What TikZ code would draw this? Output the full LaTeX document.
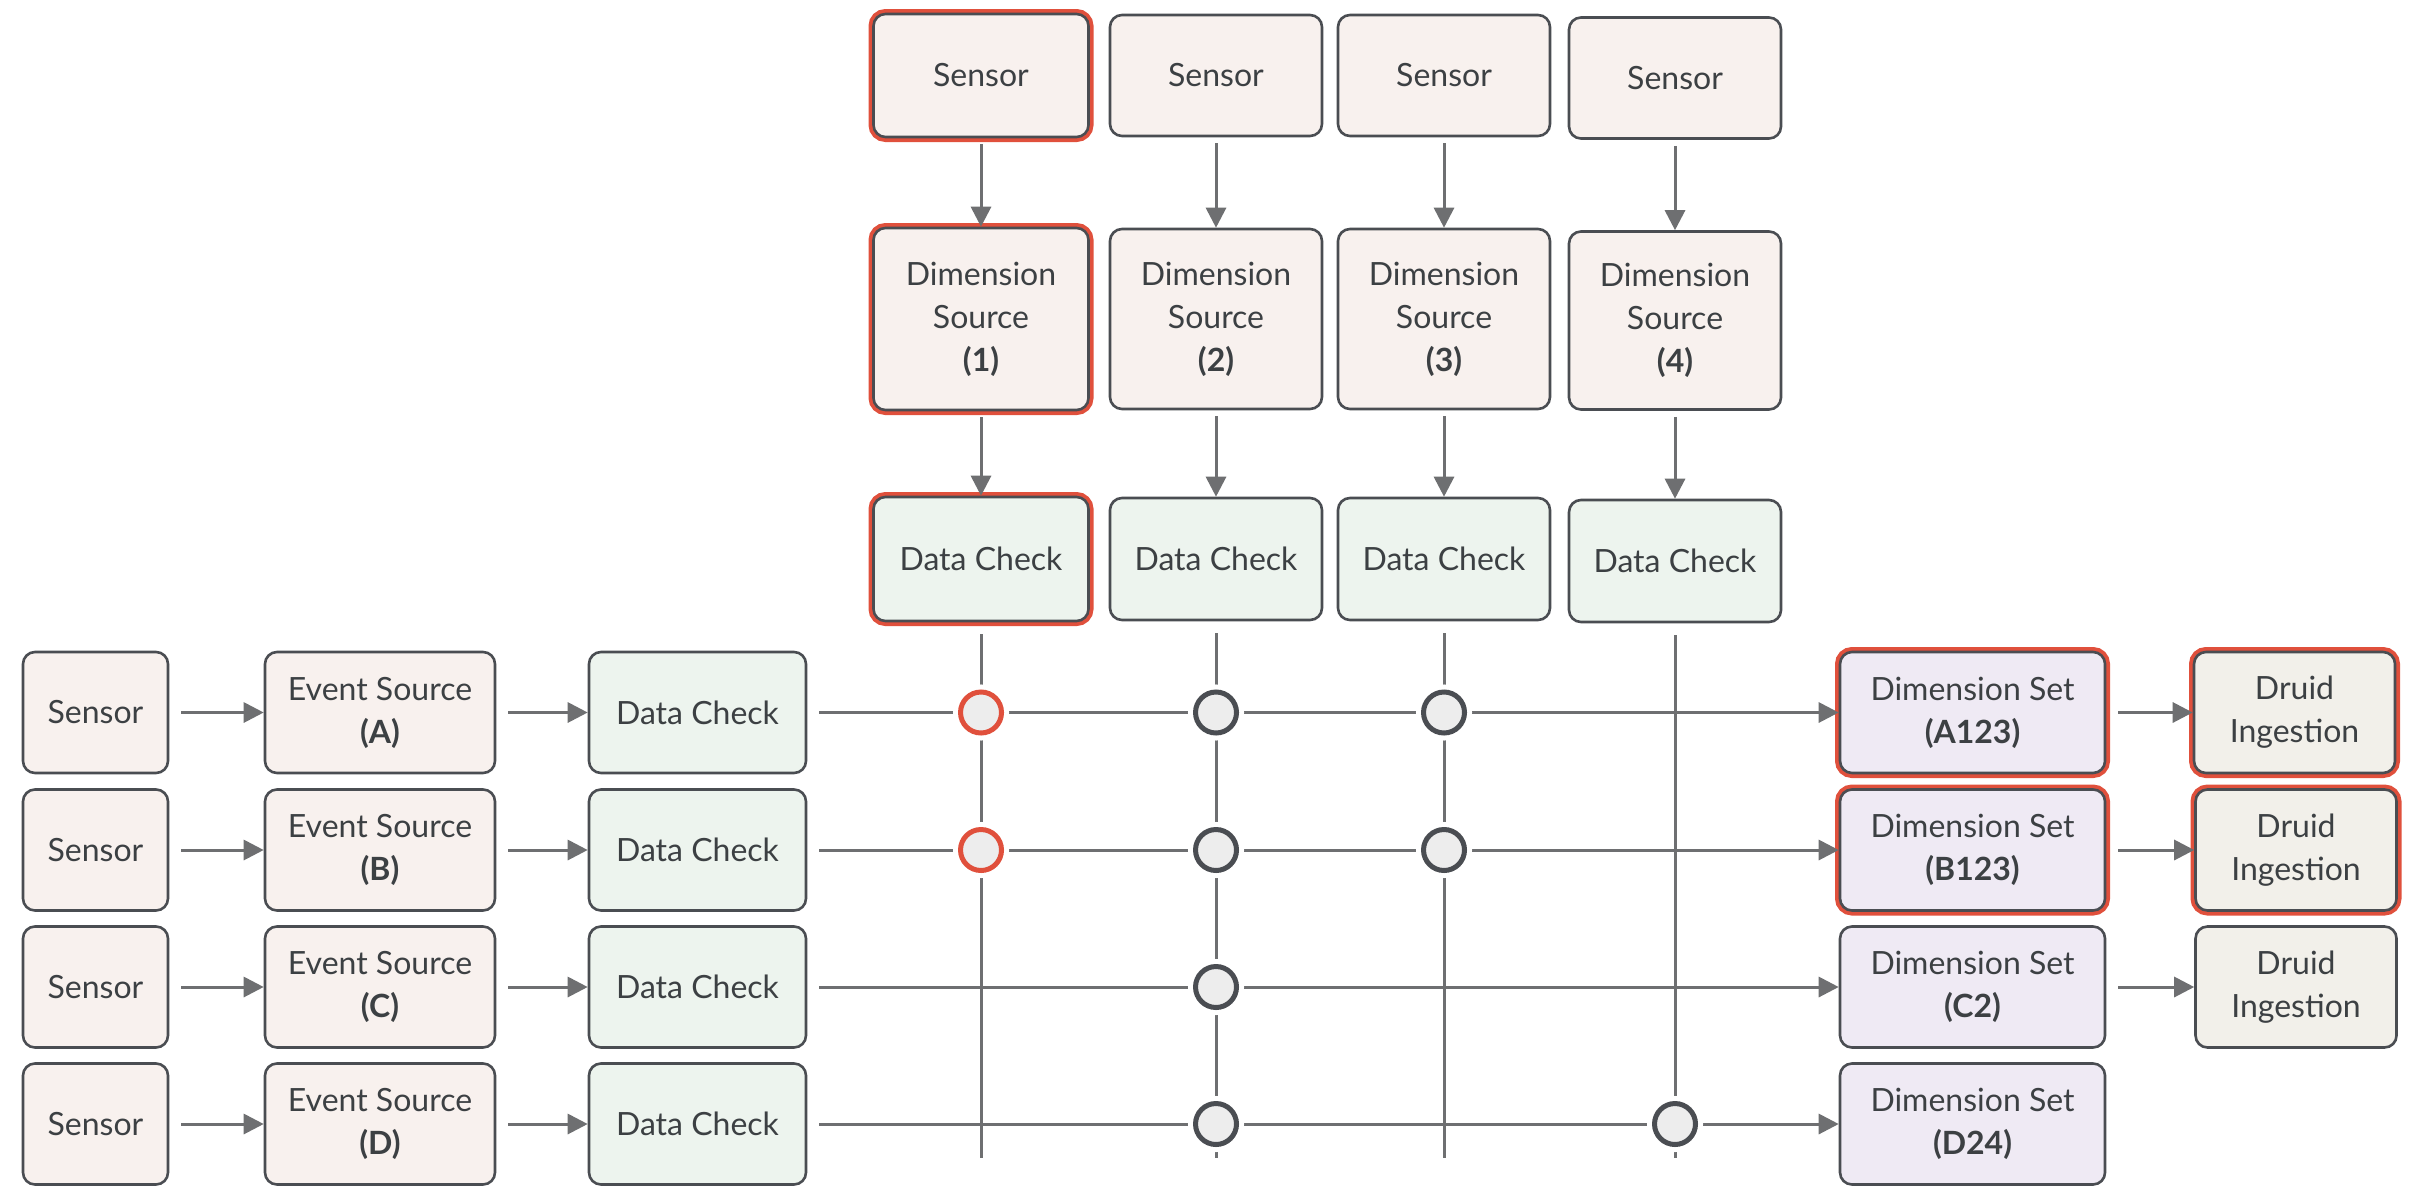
\documentclass[tikz,border=0pt]{standalone}
\usepackage{fontspec}
\setmainfont{Lato}
\usetikzlibrary{arrows.meta}

\definecolor{ink}{HTML}{3C4043}
\definecolor{edge}{HTML}{4A4D52}
\definecolor{wirec}{HTML}{6E6F71}
\definecolor{hotc}{HTML}{E0503C}
\definecolor{srcfill}{HTML}{F8F1EE}
\definecolor{chkfill}{HTML}{EDF4EE}
\definecolor{setfill}{HTML}{EFEAF4}
\definecolor{drufill}{HTML}{F2F0EA}
\definecolor{dotfill}{HTML}{EDEDED}

\tikzset{
  box/.style={draw=edge, line width=1.3pt, rounded corners=6pt, align=center, text=ink,
    font=\fontsize{16}{21.5}\selectfont, inner sep=2pt},
  src/.style={box, fill=srcfill},
  chk/.style={box, fill=chkfill},
  dset/.style={box, fill=setfill},
  druid/.style={box, fill=drufill},
  picked/.style={preaction={draw=hotc, line width=5pt}},
  wire/.style={draw=wirec, line width=1.5pt, shorten <=6pt},
  flow/.style={wire, -{Triangle[length=10pt,width=10pt]}},
  hub/.style={circle, draw=edge, line width=2.5pt, fill=dotfill, minimum size=20.5pt, inner sep=0pt,
    preaction={draw=white, line width=7.5pt}},
  hubhot/.style={hub, draw=hotc}
}

\begin{document}
\begin{tikzpicture}[x=0.5pt,y=0.5pt,yscale=-1,xscale=1]
\fill[white] (0,0) rectangle (2418,1194);
\useasboundingbox (0,0) rectangle (2418,1194);

% Top columns
\node[src,picked,minimum width=107.5pt,minimum height=61.5pt] (senT1) at (981,75.5) {Sensor};
\node[src,minimum width=106pt,minimum height=60.5pt] (senT2) at (1216,75.5) {Sensor};
\node[src,minimum width=106pt,minimum height=60.5pt] (senT3) at (1444,75.5) {Sensor};
\node[src,minimum width=106pt,minimum height=60.5pt] (senT4) at (1675,78) {Sensor};

\node[src,picked,minimum width=107.5pt,minimum height=91pt] (dsrc1) at (981,319) {Dimension\\Source\\\textbf{(1)}};
\node[src,minimum width=106pt,minimum height=90pt] (dsrc2) at (1216,319) {Dimension\\Source\\\textbf{(2)}};
\node[src,minimum width=106pt,minimum height=90pt] (dsrc3) at (1444,319) {Dimension\\Source\\\textbf{(3)}};
\node[src,minimum width=106pt,minimum height=89pt] (dsrc4) at (1675,320.5) {Dimension\\Source\\\textbf{(4)}};

\node[chk,picked,minimum width=107.5pt,minimum height=62pt] (chkT1) at (981,559) {Data Check};
\node[chk,minimum width=106pt,minimum height=61pt] (chkT2) at (1216,559) {Data Check};
\node[chk,minimum width=106pt,minimum height=61pt] (chkT3) at (1444,559) {Data Check};
\node[chk,minimum width=106pt,minimum height=61pt] (chkT4) at (1675,561) {Data Check};

% Rows
\node[src,minimum width=72.5pt,minimum height=60.5pt] (senA) at (95.5,712.5) {Sensor};
\node[src,minimum width=115pt,minimum height=60.5pt] (evA) at (380,712.5) {Event Source\\\textbf{(A)}};
\node[chk,minimum width=108.5pt,minimum height=60.5pt] (chkA) at (697.5,712.5) {Data Check};
\node[dset,picked,minimum width=132.5pt,minimum height=60.5pt] (setA) at (1972.5,712.5) {Dimension Set\\\textbf{(A123)}};
\node[druid,picked,minimum width=100.5pt,minimum height=60.5pt] (druA) at (2294.5,712.5) {Druid\\Ingestion};

\node[src,minimum width=72.5pt,minimum height=60.5pt] (senB) at (95.5,850) {Sensor};
\node[src,minimum width=115pt,minimum height=60.5pt] (evB) at (380,850) {Event Source\\\textbf{(B)}};
\node[chk,minimum width=108.5pt,minimum height=60.5pt] (chkB) at (697.5,850) {Data Check};
\node[dset,picked,minimum width=132.5pt,minimum height=60.5pt] (setB) at (1972.5,850) {Dimension Set\\\textbf{(B123)}};
\node[druid,picked,minimum width=100.5pt,minimum height=60.5pt] (druB) at (2296,850) {Druid\\Ingestion};

\node[src,minimum width=72.5pt,minimum height=60.5pt] (senC) at (95.5,987) {Sensor};
\node[src,minimum width=115pt,minimum height=60.5pt] (evC) at (380,987) {Event Source\\\textbf{(C)}};
\node[chk,minimum width=108.5pt,minimum height=60.5pt] (chkC) at (697.5,987) {Data Check};
\node[dset,minimum width=132.5pt,minimum height=60.5pt] (setC) at (1972.5,987) {Dimension Set\\\textbf{(C2)}};
\node[druid,minimum width=100.5pt,minimum height=60.5pt] (druC) at (2296,987) {Druid\\Ingestion};

\node[src,minimum width=72.5pt,minimum height=60.5pt] (senD) at (95.5,1124) {Sensor};
\node[src,minimum width=115pt,minimum height=60.5pt] (evD) at (380,1124) {Event Source\\\textbf{(D)}};
\node[chk,minimum width=108.5pt,minimum height=60.5pt] (chkD) at (697.5,1124) {Data Check};
\node[dset,minimum width=132.5pt,minimum height=60.5pt] (setD) at (1972.5,1124) {Dimension Set\\\textbf{(D24)}};

\coordinate (foot) at (0,1158);

% Column arrows
\draw[flow,shorten <=3pt] (senT1) -- (dsrc1);
\draw[flow,shorten <=3pt] (senT2) -- (dsrc2);
\draw[flow,shorten <=3pt] (senT3) -- (dsrc3);
\draw[flow,shorten <=3pt] (senT4) -- (dsrc4);
\draw[flow,shorten <=3pt] (dsrc1) -- (chkT1);
\draw[flow,shorten <=3pt] (dsrc2) -- (chkT2);
\draw[flow,shorten <=3pt] (dsrc3) -- (chkT3);
\draw[flow,shorten <=3pt] (dsrc4) -- (chkT4);

% Column wires
\draw[wire] (chkT1.south) -- (chkT1 |- foot);
\draw[wire] (chkT2.south) -- (chkT2 |- foot);
\draw[wire] (chkT3.south) -- (chkT3 |- foot);
\draw[wire] (chkT4.south) -- (chkT4 |- foot);

% Row arrows
\draw[flow] (senA) -- (evA);
\draw[flow] (evA) -- (chkA);
\draw[flow] (chkA) -- (setA);
\draw[flow] (setA) -- (druA);
\draw[flow] (senB) -- (evB);
\draw[flow] (evB) -- (chkB);
\draw[flow] (chkB) -- (setB);
\draw[flow] (setB) -- (druB);
\draw[flow] (senC) -- (evC);
\draw[flow] (evC) -- (chkC);
\draw[flow] (chkC) -- (setC);
\draw[flow] (setC) -- (druC);
\draw[flow] (senD) -- (evD);
\draw[flow] (evD) -- (chkD);
\draw[flow] (chkD) -- (setD);

% Joins
\node[hubhot] (hA1) at (chkT1 |- setA) {};
\node[hub] (hA2) at (chkT2 |- setA) {};
\node[hub] (hA3) at (chkT3 |- setA) {};
\node[hubhot] (hB1) at (chkT1 |- setB) {};
\node[hub] (hB2) at (chkT2 |- setB) {};
\node[hub] (hB3) at (chkT3 |- setB) {};
\node[hub] (hC2) at (chkT2 |- setC) {};
\node[hub] (hD2) at (chkT2 |- setD) {};
\node[hub] (hD4) at (chkT4 |- setD) {};

\end{tikzpicture}
\end{document}
